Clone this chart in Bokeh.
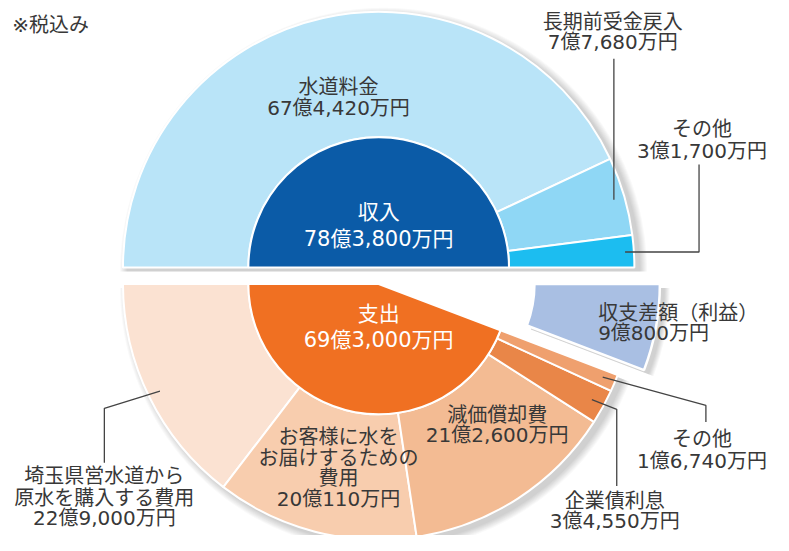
import math
from bokeh.plotting import figure
from bokeh.models import Range1d
from bokeh.core.properties import value
from bokeh.embed import file_html
from bokeh.resources import INLINE

# ---------------- data (unit: 億円) ----------------
rev_names = ["水道料金", "長期前受金戻入", "その他"]
rev_values = [67.442, 7.768, 3.17]
rev_texts = ["67億4,420万円", "7億7,680万円", "3億1,700万円"]
rev_total_text = "78億3,800万円"

exp_names = ["埼玉県営水道から原水を購入する費用", "お客様に水をお届けするための費用",
             "減価償却費", "企業債利息", "その他"]
exp_values = [22.90, 20.011, 21.26, 3.455, 1.674]
exp_texts = ["22億9,000万円", "20億110万円", "21億2,600万円", "3億4,550万円", "1億6,740万円"]
exp_total_text = "69億3,000万円"

profit_name = "収支差額（利益）"
profit_value = 9.08
profit_text = "9億800万円"

rev_colors = ["#b9e4f8", "#8fd7f5", "#1cbdf0"]
exp_colors = ["#fbe2d2", "#f8cdae", "#f3bb93", "#e98648", "#efa06e"]
profit_color = "#a9bfe3"
blue_core = "#0b5ba7"
orange_core = "#f07022"

# ---------------- layout ----------------
W, H = 773, 535
FONT = value("DejaVu Sans, Noto Sans CJK JP, sans-serif")
TXT = "#383838"

p = figure(width=W, height=H, x_range=Range1d(0, 789), y_range=Range1d(-551, 0),
           output_backend="svg", toolbar_location=None, min_border=0,
           x_axis_type=None, y_axis_type=None)
p.grid.visible = False
p.outline_line_color = None
p.background_fill_color = "white"
p.border_fill_color = "white"

CX = 386
TY, BY = 275, 292          # reference-pixel y of top / bottom centers
R_OUT, R_IN = 261, 133
PI = math.pi

rev_total = sum(rev_values)
exp_sum = sum(exp_values)
grand = exp_sum + profit_value
exp_end = PI + exp_sum / grand * PI


def pt(cx, cy_pix, r, ang):
    return cx + r * math.cos(ang), -cy_pix + r * math.sin(ang)


# ---------------- shadows ----------------
for i in range(8):
    p.wedge(x=CX + 5, y=-(TY + 4), radius=R_OUT + 8 - i, start_angle=0, end_angle=PI,
            fill_color="#000000", fill_alpha=0.025, line_color=None)
    p.wedge(x=CX + 5, y=-(BY + 4), radius=R_OUT + 8 - i, start_angle=PI, end_angle=exp_end,
            fill_color="#000000", fill_alpha=0.025, line_color=None)

# ---------------- revenue (top half) ----------------
cum = 0.0
rev_angles = []
for v, c in zip(rev_values, rev_colors):
    a_end = PI - cum / rev_total * PI
    cum += v
    a_start = PI - cum / rev_total * PI
    rev_angles.append((a_start, a_end))
    p.annular_wedge(x=CX, y=-TY, inner_radius=R_IN, outer_radius=R_OUT,
                    start_angle=a_start, end_angle=a_end,
                    fill_color=c, line_color="white", line_width=2)
p.wedge(x=CX, y=-TY, radius=R_IN, start_angle=0, end_angle=PI,
        fill_color=blue_core, line_color="white", line_width=2)

# ---------------- expenses (bottom half) ----------------
cum = 0.0
exp_angles = []
for v, c in zip(exp_values, exp_colors):
    a_start = PI + cum / grand * PI
    cum += v
    a_end = PI + cum / grand * PI
    exp_angles.append((a_start, a_end))
    p.annular_wedge(x=CX, y=-BY, inner_radius=R_IN, outer_radius=R_OUT,
                    start_angle=a_start, end_angle=a_end,
                    fill_color=c, line_color="white", line_width=2)
p.wedge(x=CX, y=-BY, radius=R_IN, start_angle=PI, end_angle=exp_end,
        fill_color=orange_core, line_color="white", line_width=2)

# profit (exploded)
PX = CX + 40
pa = profit_value / grand * PI
for i in range(6):
    p.annular_wedge(x=PX + 4, y=-(BY + 4), inner_radius=119, outer_radius=247 + 6 - i,
                    start_angle=2 * PI - pa, end_angle=2 * PI,
                    fill_color="#000000", fill_alpha=0.03, line_color=None)
p.annular_wedge(x=PX, y=-BY, inner_radius=119, outer_radius=247,
                start_angle=2 * PI - pa, end_angle=2 * PI,
                fill_color=profit_color, line_color="white", line_width=2.5)

# ---------------- leader lines ----------------
LC = "#444444"
mid = lambda a: (a[0] + a[1]) / 2
# 長期前受金戻入
x0, y0 = pt(CX, TY, 250, mid(rev_angles[1]))
p.line([x0, x0], [y0, -60], line_color=LC, line_width=1.3)
# その他 (revenue)
x0, y0 = pt(CX, TY, 252, mid(rev_angles[2]))
p.line([x0, 713, 713], [y0, y0, -169], line_color=LC, line_width=1.3)
# 埼玉県営水道
x0, y0 = pt(CX, BY, 249, mid(exp_angles[0]))
p.line([x0, 106, 106], [y0, -420, -476], line_color=LC, line_width=1.3)
# 企業債利息
x0, y0 = pt(CX, BY, 248, mid(exp_angles[3]))
p.line([x0, 629, 629], [y0, -421, -500], line_color=LC, line_width=1.3)
# その他 (expenses)
x0, y0 = pt(CX, BY, 248, mid(exp_angles[4]))
p.line([x0, 720, 720], [y0, -417, -434], line_color=LC, line_width=1.3)


# ---------------- texts ----------------
def label(x, ys, lines, size="20px", color=TXT, align="center"):
    p.text(x=[x] * len(lines), y=[-y for y in ys], text=lines,
           text_font=FONT, text_font_size=size, text_color=color,
           text_align=align, text_baseline="middle")


label(12, [25], ["※税込み"], size="20px", align="left")
label(345, [89, 111], [rev_names[0], rev_texts[0]])
label(386, [218, 246], ["収入", rev_total_text], size="21px", color="white")
label(625, [22, 43], [rev_names[1], rev_texts[1]])
label(716, [132, 155], [rev_names[2], rev_texts[2]])

label(386, [323, 350], ["支出", exp_total_text], size="21px", color="white")
label(106, [490, 512, 533], ["埼玉県営水道から", "原水を購入する費用", exp_texts[0]])
label(345, [450, 471, 492, 513], ["お客様に水を", "お届けするための", "費用", exp_texts[1]])
label(507, [427, 448], [exp_names[2], exp_texts[2]])
label(627, [515, 536], [exp_names[3], exp_texts[3]])
label(716, [452, 474], [exp_names[4], exp_texts[4]])
label(610, [322, 342], [profit_name, profit_text], align="left")

open("out.html", "w").write(file_html(p, INLINE))
